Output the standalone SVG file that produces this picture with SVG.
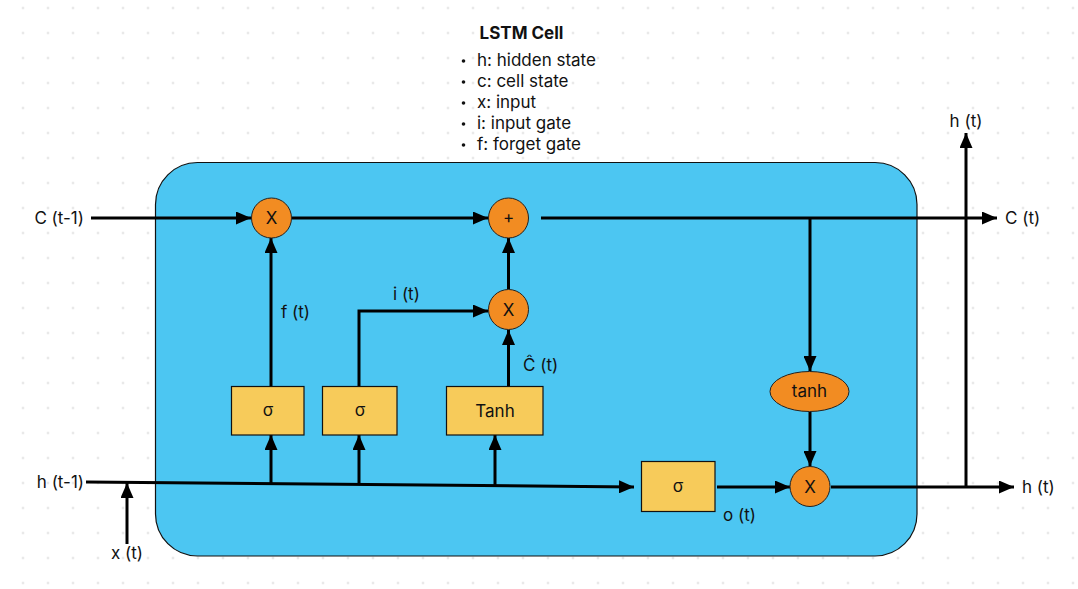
<svg xmlns="http://www.w3.org/2000/svg" width="1078" height="589" viewBox="0 0 1078 589">
<style>
.t{font-family:Inter,"Liberation Sans",sans-serif;font-size:17px;fill:#111}
.c{stroke:#000;stroke-width:3;fill:none}
.op{fill:#F28C22;stroke:#222;stroke-width:1}
.gate{fill:#F7CB5A;stroke:#111;stroke-width:1.2}
</style>
<defs>
<pattern id="grid" x="10.5" y="-4.5" width="25" height="25" patternUnits="userSpaceOnUse">
<circle cx="12.5" cy="12.5" r="1" fill="#cfcfcf"/>
</pattern>
<marker id="ah" markerWidth="15" markerHeight="13" refX="15" refY="6.5" orient="auto" markerUnits="userSpaceOnUse">
<path d="M0,0 L15,6.5 L0,13 z" fill="#000"/>
</marker>
</defs>
<rect width="1078" height="589" fill="#fff"/>
<rect width="1078" height="589" fill="url(#grid)"/>

<g id="legend">
<text class="t" x="521.5" y="39" text-anchor="middle" font-weight="bold">LSTM Cell</text>
<circle cx="463.5" cy="61" r="1.8" fill="#111"/>
<circle cx="463.5" cy="82" r="1.8" fill="#111"/>
<circle cx="463.5" cy="103" r="1.8" fill="#111"/>
<circle cx="463.5" cy="124" r="1.8" fill="#111"/>
<circle cx="463.5" cy="145" r="1.8" fill="#111"/>
<text class="t" x="477" y="66">h: hidden state</text>
<text class="t" x="477" y="87">c: cell state</text>
<text class="t" x="477" y="108">x: input</text>
<text class="t" x="477" y="129">i: input gate</text>
<text class="t" x="477" y="150">f: forget gate</text>
</g>

<g id="cell">
<rect x="155.5" y="162.5" width="761.5" height="393.5" rx="42" ry="42" fill="#4CC6F2" stroke="#111" stroke-width="1.2"/>
</g>

<g id="connectors">
<line class="c" x1="91" y1="218" x2="251" y2="218" marker-end="url(#ah)"/>
<line class="c" x1="292" y1="218" x2="488" y2="218" marker-end="url(#ah)"/>
<line class="c" x1="541" y1="218" x2="997" y2="218" marker-end="url(#ah)"/>
<line class="c" x1="810" y1="218" x2="810" y2="371" marker-end="url(#ah)"/>
<line class="c" x1="810" y1="412" x2="810" y2="466" marker-end="url(#ah)"/>
<line class="c" x1="271" y1="386" x2="271" y2="238" marker-end="url(#ah)"/>
<polyline class="c" points="359,386 359,311 488,311" marker-end="url(#ah)"/>
<line class="c" x1="508.5" y1="386" x2="508.5" y2="330" marker-end="url(#ah)"/>
<line class="c" x1="508.5" y1="289" x2="508.5" y2="238" marker-end="url(#ah)"/>
<line class="c" x1="86" y1="482" x2="634" y2="487" marker-end="url(#ah)"/>
<line class="c" x1="271" y1="484" x2="271" y2="435" marker-end="url(#ah)"/>
<line class="c" x1="359" y1="485" x2="359" y2="435" marker-end="url(#ah)"/>
<line class="c" x1="495" y1="486" x2="495" y2="435" marker-end="url(#ah)"/>
<line class="c" x1="127" y1="544" x2="127" y2="483" marker-end="url(#ah)"/>
<line class="c" x1="717" y1="487" x2="790" y2="487" marker-end="url(#ah)"/>
<line class="c" x1="831" y1="487" x2="1014" y2="487" marker-end="url(#ah)"/>
<line class="c" x1="966" y1="487" x2="966" y2="133" marker-end="url(#ah)"/>
</g>

<g id="forget-mul">
<circle class="op" cx="271.5" cy="218" r="20"/>
<text class="t" x="271.5" y="224" text-anchor="middle">X</text>
</g>
<g id="add">
<circle class="op" cx="508.5" cy="218" r="20"/>
<text class="t" x="508.5" y="223" text-anchor="middle" font-size="14">+</text>
</g>
<g id="input-mul">
<circle class="op" cx="508.5" cy="309.5" r="20"/>
<text class="t" x="508.5" y="315.5" text-anchor="middle">X</text>
</g>
<g id="output-mul">
<circle class="op" cx="810" cy="486.5" r="20"/>
<text class="t" x="810" y="492.5" text-anchor="middle">X</text>
</g>
<g id="tanh-c">
<ellipse class="op" cx="809.5" cy="391.5" rx="39.5" ry="20"/>
<text class="t" x="809.5" y="397" text-anchor="middle">tanh</text>
</g>
<g id="sigma-f">
<rect class="gate" x="231.5" y="386.5" width="72.5" height="48.5"/>
<text class="t" x="268" y="416" text-anchor="middle">σ</text>
</g>
<g id="sigma-i">
<rect class="gate" x="322.5" y="386.5" width="74.5" height="48.5"/>
<text class="t" x="360" y="416" text-anchor="middle">σ</text>
</g>
<g id="tanh-gate">
<rect class="gate" x="446.5" y="386.5" width="96.5" height="48.5"/>
<text class="t" x="495" y="417" text-anchor="middle">Tanh</text>
</g>
<g id="sigma-o">
<rect class="gate" x="641.5" y="461.5" width="73.5" height="50"/>
<text class="t" x="678" y="492" text-anchor="middle">σ</text>
</g>

<g id="labels">
<text class="t" x="84" y="224" text-anchor="end">C (t-1)</text>
<text class="t" x="84" y="488" text-anchor="end">h (t-1)</text>
<text class="t" x="127" y="559" text-anchor="middle">x (t)</text>
<text class="t" x="281" y="318">f (t)</text>
<text class="t" x="393" y="300">i (t)</text>
<text class="t" x="523" y="371">Ĉ (t)</text>
<text class="t" x="723" y="521">o (t)</text>
<text class="t" x="1005" y="224">C (t)</text>
<text class="t" x="1022" y="493">h (t)</text>
<text class="t" x="966" y="127" text-anchor="middle">h (t)</text>
</g>
</svg>
